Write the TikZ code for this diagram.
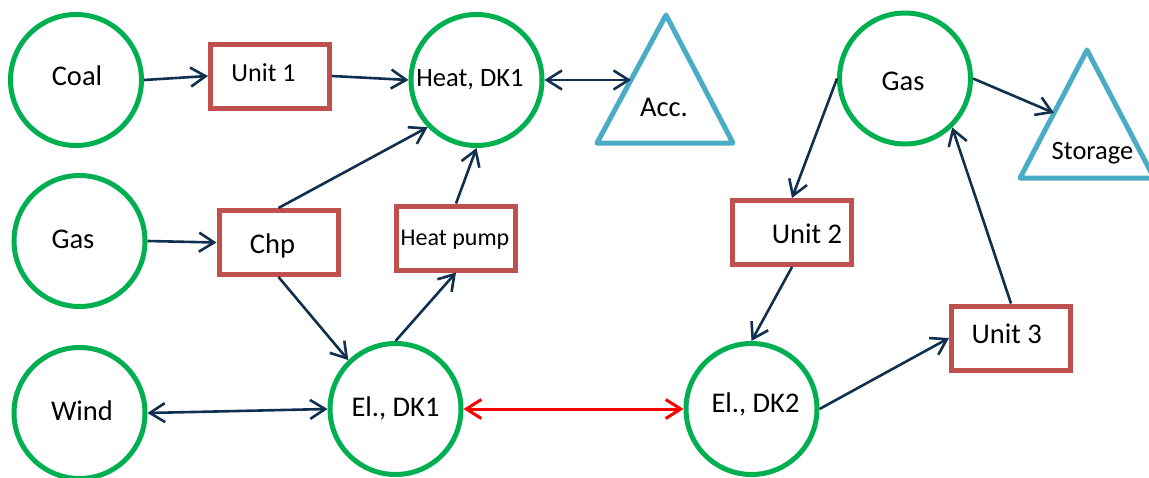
\documentclass[tikz,border=0pt]{standalone}
\usepackage{fontspec}
\setmainfont{Carlito}
\usetikzlibrary{arrows.meta}
\definecolor{cgreen}{HTML}{00B050}
\definecolor{cbox}{HTML}{C0504D}
\definecolor{ctri}{HTML}{4BACC6}
\definecolor{carrow}{HTML}{10304F}
\definecolor{cred}{HTML}{FF0000}
\begin{document}
\begin{tikzpicture}[x=1pt,y=-1pt,
  hub/.style={circle,draw=cgreen,line width=5pt,minimum size=131pt,inner sep=0pt},
  unitbox/.style={rectangle,draw=cbox,line width=5pt,minimum width=119pt,minimum height=64pt,inner sep=0pt},
  store/.style={draw=ctri,line width=5pt,line join=round},
  lbl/.style={anchor=base,inner sep=0pt,font=\fontsize{28.5}{30}\selectfont},
  barb/.tip={Straight Barb[length=15pt,width=19pt]},
  flow/.style={draw=carrow,line width=2.6pt,-barb},
  flowtwo/.style={draw=carrow,line width=2.6pt,barb-barb},
  link/.style={draw=cred,line width=3pt,barb-barb}]
\useasboundingbox (0,0) rectangle (1149,477);
% circles
\node[hub] (coal) at (76,80) {};
\node[hub] (gasL) at (79.5,241) {};
\node[hub] (wind) at (79.5,413) {};
\node[hub] (heat) at (476.5,80) {};
\node[hub] (elA) at (395.5,409) {};
\node[hub] (elB) at (751.5,409) {};
\node[hub] (gasR) at (905,78.5) {};
% boxes
\node[unitbox] (u1) at (270,76) {};
\node[unitbox] (chp) at (278.5,242.5) {};
\node[unitbox] (hp) at (456,238) {};
\node[unitbox] (u2) at (792,232.5) {};
\node[unitbox] (u3) at (1011,338) {};
% triangles
\draw[store] (666,15) -- (597,143) -- (733,143) -- cycle;
\draw[store] (1087,50) -- (1020,178) -- (1154,178) -- cycle;
\coordinate (accL) at (631,80);
\coordinate (stL) at (1054,113);
% labels
\node[lbl] (tcoal) at (77,85) {Coal};
\node[lbl,font=\fontsize{26.5}{28}\selectfont] (theat) at (470,86) {Heat, DK1};
\node[lbl] (tgasL) at (73,248.3) {Gas};
\node[lbl] (twind) at (82,420) {Wind};
\node[lbl] (telA) at (395.5,416) {El., DK1};
\node[lbl] (telB) at (755.5,412) {El., DK2};
\node[lbl] (tgasR) at (903,90) {Gas};
\node[lbl] (tacc) at (664,116.7) {Acc.};
\node[lbl,font=\fontsize{26.5}{28}\selectfont] (tstore) at (1092.5,159.3) {Storage};
\node[lbl,font=\fontsize{26}{28}\selectfont] (tu1) at (263.5,81.7) {Unit 1};
\node[lbl] (tchp) at (272.5,253.3) {Chp};
\node[lbl,font=\fontsize{24}{26}\selectfont] (thp) at (455,245) {Heat pump};
\node[lbl] (tu2) at (807,243.3) {Unit 2};
\node[lbl] (tu3) at (1006.7,343.3) {Unit 3};
% connectors
\draw[flow] (coal.east) -- (u1.west);
\draw[flow] (u1.east) -- (heat.west);
\draw[flow] (gasL.east) -- (chp.west);
\draw[flow] (chp.north) -- (heat.224);
\draw[flow] (chp.south) -- (elA.134);
\draw[flow] (elA.north) -- (hp.south);
\draw[flow] (hp.north) -- (heat.south);
\draw[flowtwo] (heat.east) -- (accL);
\draw[flowtwo] (wind.east) -- (elA.west);
\draw[link] (elA.east) -- (elB.west);
\draw[flow] (gasR.west) -- (u2.north);
\draw[flow] (u2.south) -- (elB.north);
\draw[flow] (elB.east) -- (u3.west);
\draw[flow] (u3.north) -- (gasR.314);
\draw[flow] (gasR.east) -- (stL);
\end{tikzpicture}
\end{document}
